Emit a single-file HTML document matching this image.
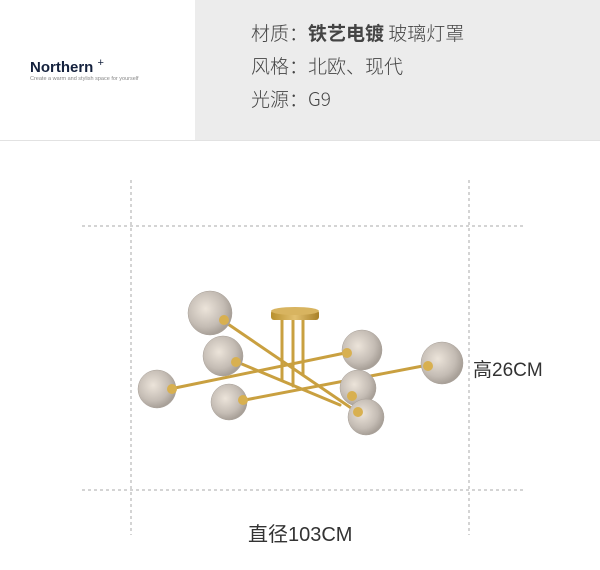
<!DOCTYPE html>
<html><head><meta charset="utf-8"><style>
body{margin:0;width:600px;height:570px;background:#fff;position:relative;overflow:hidden;font-family:"Liberation Sans","Noto Sans CJK SC",sans-serif}
.gray{position:absolute;left:195px;top:0;width:405px;height:140px;background:#ececec}
.line{position:absolute;left:0;top:140px;width:600px;height:1px;background:#e2e2e2}
.t{position:absolute;left:251px;font-size:19px;color:#444;line-height:22px;font-family:"Noto Sans CJK SC","Liberation Sans",sans-serif;font-weight:300}
</style></head><body>
<div class="gray"></div><div class="line"></div>
<div style="position:absolute;left:30px;top:57px;font-size:15px;font-weight:bold;color:#14213d">Northern <sup style="font-weight:normal;font-size:11px">+</sup></div>
<div style="position:absolute;left:30px;top:76px;font-size:5.5px;color:#888">Create a warm and stylish space for yourself</div>
<div class="t" style="top:22px">材质：<b style="font-weight:bold">铁艺电镀</b> 玻璃灯罩</div>
<div class="t" style="top:55px">风格：北欧、现代</div>
<div class="t" style="top:88px">光源：G9</div>
<svg width="600" height="570" style="position:absolute;left:0;top:0">
<g stroke="#aaa" stroke-width="1" stroke-dasharray="3,3">
<line x1="82" y1="226" x2="525" y2="226"/><line x1="82" y1="490" x2="525" y2="490"/>
<line x1="131" y1="180" x2="131" y2="535"/><line x1="469" y1="180" x2="469" y2="535"/>
</g>
<defs><radialGradient id="gl" cx="0.4" cy="0.4" r="0.6"><stop offset="0" stop-color="#ece4da"/><stop offset="0.7" stop-color="#c4bcb4"/><stop offset="1" stop-color="#a8a098"/></radialGradient>
<linearGradient id="br" x1="0" x2="1"><stop offset="0" stop-color="#b8902e"/><stop offset="0.5" stop-color="#e2c070"/><stop offset="1" stop-color="#a88028"/></linearGradient></defs>
<g stroke="#c9a040" stroke-width="3" stroke-linecap="round">
<line x1="282" y1="318" x2="282" y2="380"/><line x1="293" y1="318" x2="293" y2="386"/><line x1="303" y1="318" x2="303" y2="375"/>
<line x1="225" y1="322" x2="357" y2="412"/><line x1="237" y1="362" x2="340" y2="405"/>
<line x1="170" y1="389" x2="345" y2="353"/><line x1="245" y1="400" x2="428" y2="365"/>
</g>
<rect x="271" y="310" width="48" height="10" rx="3" fill="url(#br)"/>
<ellipse cx="295" cy="311" rx="24" ry="4" fill="#d8b460"/>
<g fill="url(#gl)" stroke="#a8a098" stroke-width="0.5">
<circle cx="210" cy="313" r="22"/><circle cx="223" cy="356" r="20"/><circle cx="157" cy="389" r="19"/><circle cx="229" cy="402" r="18"/>
<circle cx="362" cy="350" r="20"/><circle cx="442" cy="363" r="21"/><circle cx="358" cy="388" r="18"/><circle cx="366" cy="417" r="18"/>
</g>
<g fill="#d8b050">
<circle cx="224" cy="320" r="5"/><circle cx="236" cy="362" r="5"/><circle cx="172" cy="389" r="5"/><circle cx="243" cy="400" r="5"/>
<circle cx="347" cy="353" r="5"/><circle cx="428" cy="366" r="5"/><circle cx="352" cy="396" r="5"/><circle cx="358" cy="412" r="5"/>
</g>
</svg>
<div style="position:absolute;left:473px;top:355px;font-size:19px;color:#333">高26CM</div>
<div style="position:absolute;left:248px;top:518px;font-size:20px;color:#333">直径103CM</div>
</body></html>
